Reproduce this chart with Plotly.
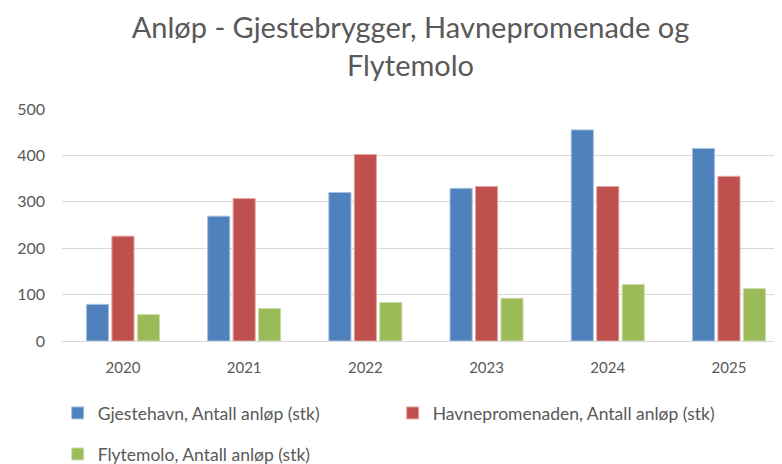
import plotly.graph_objects as go

years = ["2020", "2021", "2022", "2023", "2024", "2025"]
gjestehavn = [79, 269, 320, 329, 455, 415]
havnepromenaden = [226, 307, 402, 333, 333, 355]
flytemolo = [57, 70, 83, 92, 122, 113]

names = ["Gjestehavn, Antall anløp (stk)",
         "Havnepromenaden, Antall anløp (stk)",
         "Flytemolo, Antall anløp (stk)"]
colors = ["#4f81bd", "#c0504d", "#9bbb59"]
line_colors = ["#a7c0de", "#e0a8a6", "#cddcac"]

FONT = "Lato, Calibri, Carlito, sans-serif"
GREY = "#595959"

fig = go.Figure()
for vals, name, c, lc, lg in zip([gjestehavn, havnepromenaden, flytemolo], names, colors, line_colors,
                                 ["legend", "legend", "legend2"]):
    fig.add_trace(go.Bar(x=years, y=vals, name=name, marker=dict(color=c, line=dict(color=lc, width=1)),
                         legend=lg))

fig.update_layout(
    width=774, height=456,
    margin=dict(l=54, r=3, t=101, b=123, autoexpand=False),
    paper_bgcolor="white", plot_bgcolor="white",
    font=dict(family=FONT, color=GREY, size=15),
    title=dict(text="Anløp - Gjestebrygger, Havnepromenade og<br>Flytemolo",
               x=0.52, xanchor="center", yref="container", y=0.934, yanchor="middle",
               font=dict(size=29, color=GREY, family=FONT)),
    barmode="group", bargap=0.37, bargroupgap=0.13,
    xaxis=dict(showgrid=False, ticks="", tickfont=dict(size=15, color=GREY),
               range=[-0.503, 5.413], ticklabelstandoff=13,
               showline=True, linecolor="#d9d9d9", linewidth=1),
    yaxis=dict(range=[0, 500], dtick=100, showgrid=True, gridcolor="#d9d9d9", gridwidth=1,
               zeroline=False, tickfont=dict(size=16, color=GREY), ticklabelstandoff=16),
    legend=dict(orientation="h", x=-0.006, xanchor="left", y=-0.233, yanchor="top",
                entrywidth=290, entrywidthmode="pixels", font=dict(size=17.5, color=GREY),
                itemwidth=30, traceorder="normal"),
    legend2=dict(orientation="h", x=-0.006, xanchor="left", y=-0.41, yanchor="top",
                 font=dict(size=17.5, color=GREY), itemwidth=30),
)

fig.write_html("out.html")
